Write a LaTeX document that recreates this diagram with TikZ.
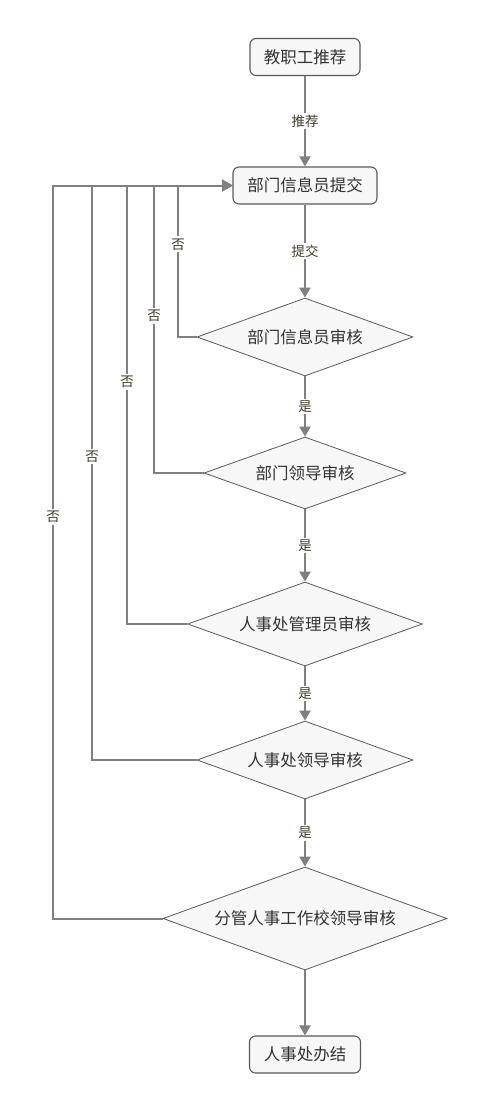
\documentclass[tikz,border=0pt]{standalone}
\usepackage{fontspec}
\setmainfont{Noto Sans CJK SC}
\usetikzlibrary{shapes.geometric,arrows.meta}
\pgfdeclarelayer{bg}
\pgfsetlayers{bg,main}
\definecolor{linegray}{HTML}{808080}
\definecolor{boxgray}{HTML}{5A5A5A}
\definecolor{nodefill}{HTML}{F7F7F7}
\definecolor{nodetext}{HTML}{333333}
\definecolor{labeltext}{HTML}{3F3A2A}
\tikzset{
    flowbox/.style={rectangle, rounded corners=6pt, draw=boxgray, fill=nodefill, line width=1.1pt, text=nodetext, font=\fontsize{16.5}{18}\selectfont, minimum height=37pt, inner sep=0pt},
    decision/.style={diamond, aspect=2.78, draw=boxgray, fill=nodefill, line width=0.8pt, inner sep=0pt, text=nodetext, font=\fontsize{16.5}{18}\selectfont}
}
\tikzset{
    flowline/.style={draw=linegray, line width=2pt, -{Triangle[width=11pt,length=10pt]}},
    edgelabel/.style={fill=white, text=labeltext, font=\fontsize{13.5}{15}\selectfont, inner sep=2pt}
}

\begin{document}
\begin{tikzpicture}[x=1pt, y=-1pt]
        \useasboundingbox (0,0) rectangle (489,1111);
        \node (v0) [flowbox, minimum width=110pt] at (305, 57) {教职工推荐};
        \node (v1) [flowbox, minimum width=144pt] at (305, 185.5) {部门信息员提交};
        \node (v2) [decision, minimum width=216pt, minimum height=78pt] at (305, 337) {部门信息员审核};
        \node (v3) [decision, minimum width=202pt, minimum height=72pt] at (305, 473) {部门领导审核};
        \node (v4) [decision, minimum width=235pt, minimum height=84pt] at (305, 624) {人事处管理员审核};
        \node (v5) [decision, minimum width=216pt, minimum height=78pt] at (305, 760) {人事处领导审核};
        \node (v6) [decision, minimum width=284pt, minimum height=103pt] at (305, 918.5) {分管人事工作校领导审核};
        \node (v7) [flowbox, minimum width=111pt] at (305, 1054.5) {人事处办结};
        \coordinate (u2) at (178, 185.5);
        \coordinate (u3) at (154, 185.5);
        \coordinate (u4) at (127, 185.5);
        \coordinate (u5) at (92, 185.5);
        \coordinate (u6) at (53, 185.5);
        \begin{pgfonlayer}{bg}
                \draw (v0) edge [flowline] node [edgelabel] {推荐} (v1);
                \draw (v1) edge [flowline] node [edgelabel] {提交} (v2);
                \draw (v2) edge [flowline] node [edgelabel] {是} (v3);
                \draw (v3) edge [flowline] node [edgelabel] {是} (v4);
                \draw (v4) edge [flowline] node [edgelabel] {是} (v5);
                \draw (v5) edge [flowline] node [edgelabel] {是} (v6);
                \draw (v6) edge [flowline] (v7);
                \draw [flowline] (v2.west) -| node [edgelabel, pos=.806] {否} (u2) -- (v1.west);
                \draw [flowline] (v3.west) -| node [edgelabel, pos=.773] {否} (u3) -- (v1.west);
                \draw [flowline] (v4.west) -| node [edgelabel, pos=.776] {否} (u4) -- (v1.west);
                \draw [flowline] (v5.west) -| node [edgelabel, pos=.764] {否} (u5) -- (v1.west);
                \draw [flowline] (v6.west) -| node [edgelabel, pos=.774] {否} (u6) -- (v1.west);
        \end{pgfonlayer}
\end{tikzpicture}
\end{document}
